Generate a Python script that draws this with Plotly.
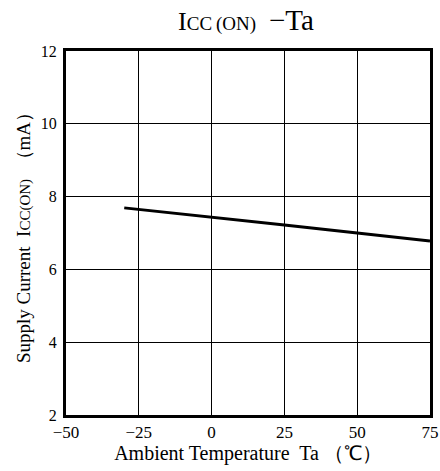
import plotly.graph_objects as go

temps = [-30, 0, 25, 50, 75]
icc = [7.69, 7.44, 7.22, 7.0, 6.78]

x_ticks = [-50, -25, 0, 25, 50, 75]
x_labels = ["\u221250", "\u221225", "0", "25", "50", "75"]
y_ticks = [2, 4, 6, 8, 10, 12]
y_labels = ["2", "4", "6", "8", "10", "12"]

font = "Liberation Serif, Times New Roman, serif"

fig = go.Figure()
fig.add_trace(go.Scatter(x=temps, y=icc, mode="lines",
                         line=dict(color="black", width=3), showlegend=False,
                         cliponaxis=False))

fig.update_layout(
    width=440, height=471,
    margin=dict(l=66, r=10, t=51, b=56, autoexpand=False),
    paper_bgcolor="white", plot_bgcolor="white",
    font=dict(family=font, color="black", size=16),
    title=dict(text="I<span style='font-size:19px'>CC\u2009(ON)</span>\u2002<span style='font-size:29px'>\u2212Ta</span>",
               x=246 / 440, xanchor="center",
               y=1 - 21 / 471, yanchor="middle", font=dict(size=26, family=font)),
)
fig.update_xaxes(range=[-50, 75], tickvals=x_ticks, ticktext=x_labels,
                 showgrid=True, gridcolor="black", gridwidth=1.3,
                 showline=True, linecolor="black", linewidth=3, mirror=True,
                 zeroline=False, ticks="", tickfont=dict(size=17, family=font),
                 automargin=False,
                 title=dict(text="Ambient Temperature  Ta \uff08\u2103\uff09",
                            font=dict(size=20, family=font), standoff=4))
fig.update_yaxes(range=[2, 12], tickvals=y_ticks, ticktext=y_labels,
                 showgrid=True, gridcolor="black", gridwidth=1.3,
                 showline=True, linecolor="black", linewidth=3, mirror=True,
                 zeroline=False, ticks="", tickfont=dict(size=16, family=font),
                 ticklabelstandoff=3, automargin=False,
                 title=dict(text="Supply Current  I<span style='font-size:15px'>CC(ON)</span>  \uff08mA\uff09",
                            font=dict(size=19, family=font), standoff=6))

fig.write_html("out.html", post_script="document.body.style.margin='0';",
               config={"displayModeBar": False})
